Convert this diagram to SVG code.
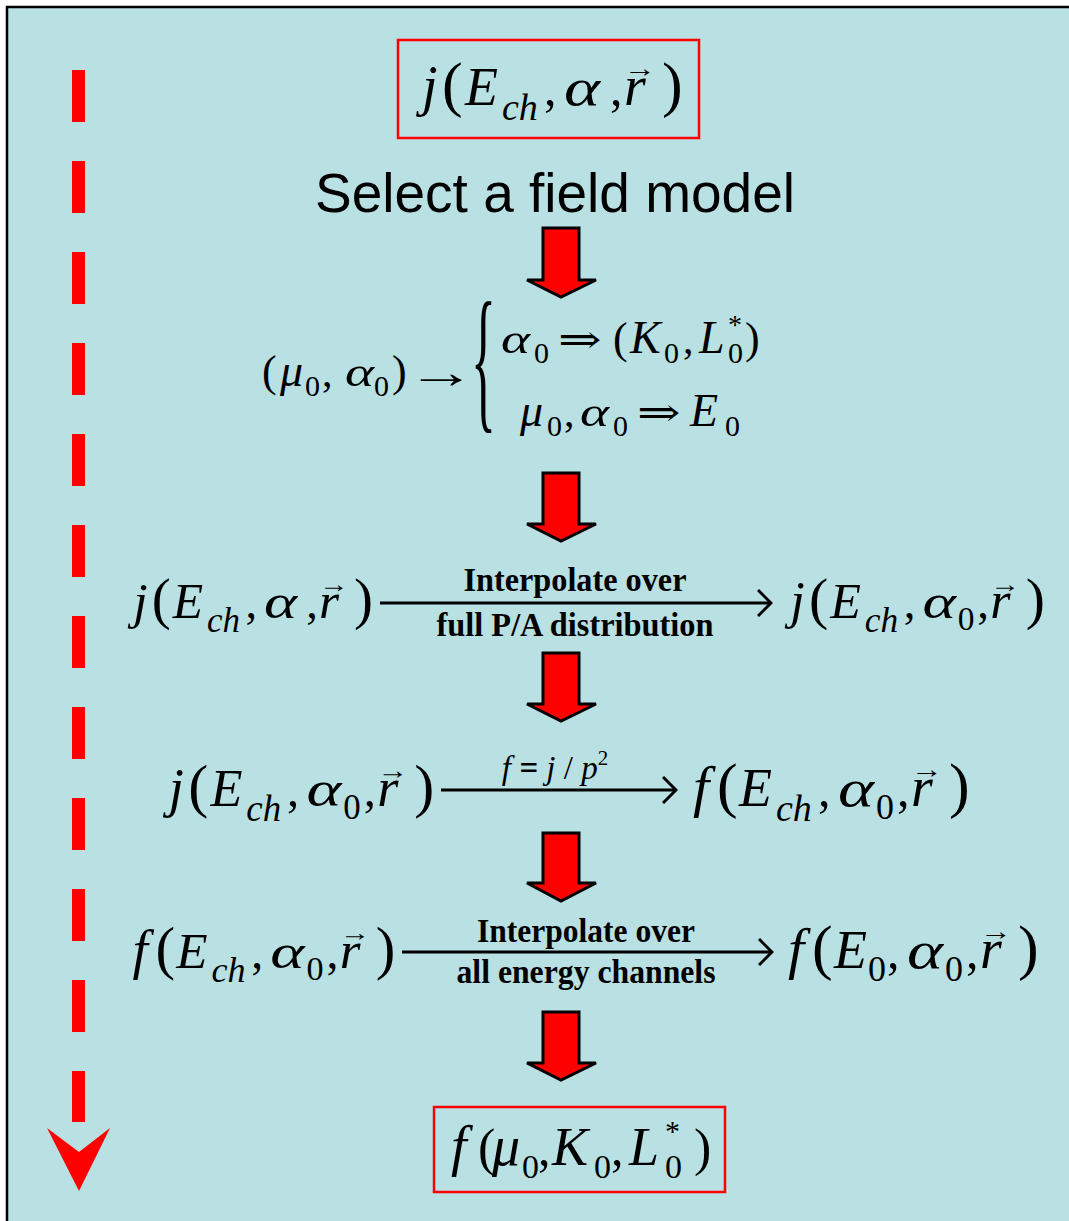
<svg xmlns="http://www.w3.org/2000/svg" width="1069" height="1221" viewBox="0 0 1069 1221">
<style>
.m{font-family:"Liberation Serif","DejaVu Serif",serif;font-style:italic;fill:#000}
.u{font-family:"Liberation Serif","DejaVu Serif",serif;font-style:normal;fill:#000}
.b{font-family:"Liberation Serif","DejaVu Serif",serif;font-weight:bold;fill:#000}
.s{font-family:"Liberation Sans","Arial",sans-serif;fill:#000}
.box{fill:none;stroke:#FF0000;stroke-width:2.5}
.blk{fill:#FF0000;stroke:#000;stroke-width:3;stroke-linejoin:miter}
.con{stroke:#000;stroke-width:3;fill:none}
</style>
<defs>
<marker id="chev" markerUnits="userSpaceOnUse" viewBox="0 0 16 28" refX="14" refY="14" markerWidth="16" markerHeight="28" orient="auto">
<path d="M1,1 L14,14 L1,27" fill="none" stroke="#000" stroke-width="3"/>
</marker>
</defs>
<rect x="0" y="0" width="1069" height="1221" fill="#FFFFFF"/>
<rect x="7" y="7" width="1100" height="1300" fill="#B9E0E3" stroke="#000" stroke-width="2.5"/>

<g id="progress-arrow">
<line x1="78.5" y1="70" x2="78.5" y2="1122" stroke="#FF0000" stroke-width="13" stroke-dasharray="52 39"/>
<polygon points="47,1128 79,1152 110,1128 79,1191" fill="#FF0000"/>
</g>

<g id="node-top">
<rect class="box" x="398" y="40" width="301" height="98"/>
<g transform="translate(413,105)">
<text class="m" font-size="56" x="9">j</text>
<text class="m" font-size="54" x="52">E</text>
<text class="m" font-size="38" x="89" y="15">ch</text>
<text class="m" font-size="52" transform="translate(151,0) scale(1.32,1)">α</text>
<text class="m" font-size="56" x="211">r</text>
<text class="u" font-size="62"><tspan x="29">(</tspan><tspan x="249">)</tspan></text>
<text class="u" font-size="50"><tspan x="131">,</tspan><tspan x="197">,</tspan></text>
<text class="u" font-size="32" transform="translate(211,-28) scale(1,0.8)">→</text>
</g>
</g>

<g id="node-select">
<text class="s" font-size="55" x="555" y="212" text-anchor="middle">Select a field model</text>
</g>

<g id="node-mapping">
<text class="u" font-size="44" x="262" y="386">(</text>
<text class="m" font-size="46" x="280" y="386">μ</text>
<text class="u" font-size="30" x="305" y="396">0</text>
<text class="u" font-size="42" x="322" y="386">,</text>
<text class="m" font-size="42" transform="translate(345,386) scale(1.32,1)">α</text>
<text class="u" font-size="30" x="374" y="396">0</text>
<text class="u" font-size="44" x="392" y="386">)</text>
<text class="u" font-size="46" transform="translate(407,388) scale(1.5,1)">→</text>
<text class="u" font-size="52" transform="translate(471,412) scale(1,3.05)">{</text>
<text class="m" font-size="42" transform="translate(501,353) scale(1.32,1)">α</text>
<text class="u" font-size="30" x="534" y="363">0</text>
<text class="u" font-size="40" transform="translate(558,353) scale(1.3,1)">⇒</text>
<text class="u" font-size="44" x="613" y="353">(</text>
<text class="m" font-size="46" x="630" y="353">K</text>
<text class="u" font-size="30" x="664" y="363">0</text>
<text class="u" font-size="42" x="683" y="353">,</text>
<text class="m" font-size="46" x="699" y="353">L</text>
<text class="u" font-size="28" x="728" y="334">*</text>
<text class="u" font-size="30" x="728" y="363">0</text>
<text class="u" font-size="44" x="745" y="353">)</text>
<text class="m" font-size="46" x="520" y="426">μ</text>
<text class="u" font-size="30" x="547" y="436">0</text>
<text class="u" font-size="42" x="564" y="426">,</text>
<text class="m" font-size="42" transform="translate(580,426) scale(1.32,1)">α</text>
<text class="u" font-size="30" x="613" y="436">0</text>
<text class="u" font-size="40" transform="translate(637,426) scale(1.3,1)">⇒</text>
<text class="m" font-size="46" x="690" y="426">E</text>
<text class="u" font-size="30" x="725" y="436">0</text>
</g>

<g id="node-j-alpha">
<g transform="translate(125,618) scale(0.92)">
<text class="m" font-size="56" x="9">j</text>
<text class="m" font-size="54" x="52">E</text>
<text class="m" font-size="38" x="89" y="15">ch</text>
<text class="m" font-size="52" transform="translate(151,0) scale(1.32,1)">α</text>
<text class="m" font-size="56" x="211">r</text>
<text class="u" font-size="62"><tspan x="29">(</tspan><tspan x="249">)</tspan></text>
<text class="u" font-size="50"><tspan x="131">,</tspan><tspan x="197">,</tspan></text>
<text class="u" font-size="32" transform="translate(211,-28) scale(1,0.8)">→</text>
</g>
</g>

<g id="node-j-alpha0-a">
<g transform="translate(782,618) scale(0.93)">
<text class="m" font-size="56" x="9">j</text>
<text class="m" font-size="54" x="52">E</text>
<text class="m" font-size="38" x="89" y="15">ch</text>
<text class="m" font-size="52" transform="translate(151,0) scale(1.32,1)">α</text>
<text class="u" font-size="36" x="189" y="13">0</text>
<text class="m" font-size="56" x="224">r</text>
<text class="u" font-size="62"><tspan x="29">(</tspan><tspan x="262">)</tspan></text>
<text class="u" font-size="50"><tspan x="131">,</tspan><tspan x="210">,</tspan></text>
<text class="u" font-size="32" transform="translate(224,-28) scale(1,0.8)">→</text>
</g>
</g>

<g id="node-j-alpha0-b">
<g transform="translate(160,806) scale(0.97)">
<text class="m" font-size="56" x="9">j</text>
<text class="m" font-size="54" x="52">E</text>
<text class="m" font-size="38" x="89" y="15">ch</text>
<text class="m" font-size="52" transform="translate(151,0) scale(1.32,1)">α</text>
<text class="u" font-size="36" x="189" y="13">0</text>
<text class="m" font-size="56" x="224">r</text>
<text class="u" font-size="62"><tspan x="29">(</tspan><tspan x="262">)</tspan></text>
<text class="u" font-size="50"><tspan x="131">,</tspan><tspan x="210">,</tspan></text>
<text class="u" font-size="32" transform="translate(224,-28) scale(1,0.8)">→</text>
</g>
</g>

<g id="node-f-ch-a">
<g transform="translate(685,806)">
<text class="m" font-size="58" x="8">f</text>
<text class="m" font-size="54" x="54">E</text>
<text class="m" font-size="38" x="91" y="15">ch</text>
<text class="m" font-size="52" transform="translate(153,0) scale(1.32,1)">α</text>
<text class="u" font-size="36" x="191" y="13">0</text>
<text class="m" font-size="56" x="226">r</text>
<text class="u" font-size="62"><tspan x="32">(</tspan><tspan x="264">)</tspan></text>
<text class="u" font-size="50"><tspan x="133">,</tspan><tspan x="212">,</tspan></text>
<text class="u" font-size="32" transform="translate(226,-28) scale(1,0.8)">→</text>
</g>
</g>

<g id="node-f-ch-b">
<g transform="translate(125,968) scale(0.95)">
<text class="m" font-size="58" x="8">f</text>
<text class="m" font-size="54" x="54">E</text>
<text class="m" font-size="38" x="91" y="15">ch</text>
<text class="m" font-size="52" transform="translate(153,0) scale(1.32,1)">α</text>
<text class="u" font-size="36" x="191" y="13">0</text>
<text class="m" font-size="56" x="226">r</text>
<text class="u" font-size="62"><tspan x="32">(</tspan><tspan x="264">)</tspan></text>
<text class="u" font-size="50"><tspan x="133">,</tspan><tspan x="212">,</tspan></text>
<text class="u" font-size="32" transform="translate(226,-28) scale(1,0.8)">→</text>
</g>
</g>

<g id="node-f-e0">
<g transform="translate(780,968)">
<text class="m" font-size="58" x="8">f</text>
<text class="m" font-size="54" x="54">E</text>
<text class="u" font-size="36" x="88" y="13">0</text>
<text class="m" font-size="52" transform="translate(127,0) scale(1.32,1)">α</text>
<text class="u" font-size="36" x="165" y="13">0</text>
<text class="m" font-size="56" x="200">r</text>
<text class="u" font-size="62"><tspan x="32">(</tspan><tspan x="238">)</tspan></text>
<text class="u" font-size="50"><tspan x="107">,</tspan><tspan x="186">,</tspan></text>
<text class="u" font-size="32" transform="translate(200,-28) scale(1,0.8)">→</text>
</g>
</g>

<g id="node-bottom">
<rect class="box" x="434" y="1107" width="291" height="85"/>
<text class="m" font-size="56" x="451" y="1165">f</text>
<text class="u" font-size="52" x="478" y="1165">(</text>
<text class="m" font-size="56" x="492" y="1165">μ</text>
<text class="u" font-size="34" x="522" y="1178">0</text>
<text class="u" font-size="50" x="538" y="1165">,</text>
<text class="m" font-size="54" x="552" y="1165">K</text>
<text class="u" font-size="34" x="594" y="1178">0</text>
<text class="u" font-size="50" x="611" y="1165">,</text>
<text class="m" font-size="54" x="629" y="1165">L</text>
<text class="u" font-size="30" x="665" y="1141">*</text>
<text class="u" font-size="34" x="665" y="1178">0</text>
<text class="u" font-size="52" x="694" y="1165">)</text>
</g>

<g id="connectors">
<polygon class="blk" points="543,228 579,228 579,280 596,280 561,297 527,280 543,280"/>
<polygon class="blk" points="543,473 579,473 579,524 596,524 561,541 527,524 543,524"/>
<polygon class="blk" points="543,653 579,653 579,704 596,704 561,721 527,704 543,704"/>
<polygon class="blk" points="543,833 579,833 579,883 596,883 561,901 527,883 543,883"/>
<polygon class="blk" points="543,1012 579,1012 579,1063 596,1063 561,1080 527,1063 543,1063"/>
<line class="con" x1="380" y1="603" x2="771" y2="603" marker-end="url(#chev)"/>
<text class="b" font-size="33" x="575" y="591" text-anchor="middle" textLength="223" lengthAdjust="spacingAndGlyphs">Interpolate over</text>
<text class="b" font-size="33" x="575" y="636" text-anchor="middle" textLength="277" lengthAdjust="spacingAndGlyphs">full P/A distribution</text>
<line class="con" x1="441" y1="790" x2="676" y2="790" marker-end="url(#chev)"/>
<text class="m" font-size="33" x="555" y="779" text-anchor="middle">f <tspan class="b">=</tspan> j <tspan class="u">/</tspan> p<tspan class="u" font-size="21" dy="-14">2</tspan></text>
<line class="con" x1="402" y1="952" x2="772" y2="952" marker-end="url(#chev)"/>
<text class="b" font-size="33" x="586" y="942" text-anchor="middle" textLength="218" lengthAdjust="spacingAndGlyphs">Interpolate over</text>
<text class="b" font-size="33" x="586" y="983" text-anchor="middle" textLength="259" lengthAdjust="spacingAndGlyphs">all energy channels</text>
</g>
</svg>
